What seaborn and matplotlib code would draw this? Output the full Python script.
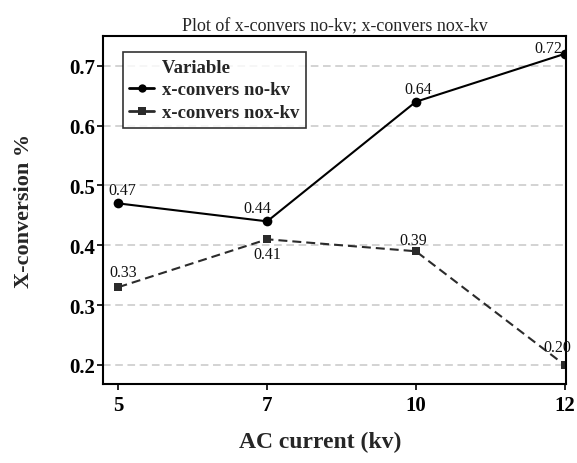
import matplotlib
matplotlib.use("Agg")
import matplotlib.pyplot as plt
import seaborn as sns
import pandas as pd

categories = ["5", "7", "10", "12"]
no_kv = [0.47, 0.44, 0.64, 0.72]
nox_kv = [0.33, 0.41, 0.39, 0.20]
series_names = ["x-convers no-kv", "x-convers nox-kv"]
y_ticks = [0.2, 0.3, 0.4, 0.5, 0.6, 0.7]

sns.set_theme(style="white")
plt.rcParams['font.family'] = ['Liberation Serif', 'DejaVu Serif']

df = pd.DataFrame({
    "AC": categories * 2,
    "value": no_kv + nox_kv,
    "Variable": [series_names[0]] * 4 + [series_names[1]] * 4,
})

fig = plt.figure(figsize=(5.77, 4.64), dpi=100)
ax = fig.add_axes([103/577, 1-385/464, 463/577, 348/464])

sns.lineplot(data=df, x="AC", y="value", hue="Variable", style="Variable",
             markers={series_names[0]: "o", series_names[1]: "s"},
             dashes={series_names[0]: "", series_names[1]: (4.3, 2.4)},
             palette={series_names[0]: "black", series_names[1]: "#2b2b2b"},
             markersize=6, linewidth=1.5, markeredgewidth=0, ax=ax)
ax.lines[0].set_markersize(7)
ax.lines[1].set_markersize(6)

ax.set_axisbelow(True)
ax.grid(axis="y", color="#c8c8c8", lw=1.1, ls=(0, (5, 3)))

def note(txt, i, v, dx, dy):
    ax.annotate(txt, (i, v), xytext=(dx, dy), textcoords="offset points",
                ha="center", va="baseline", fontsize=11.5, color="#111111")

offs1 = [(3, 6.5), (-7, 7), (2, 6.5), (-12, 1.5)]
for i, v in enumerate(no_kv):
    note(f"{v:.2f}", i, v, *offs1[i])
offs2 = [(3.5, 8), (0, -13.4), (-2, 5), (-5, 10)]
for i, v in enumerate(nox_kv):
    note(f"{v:.2f}", i, v, *offs2[i])

ax.set_xlim(-0.104, 3.01)
ax.set_ylim(0.168, 0.75)
ax.set_yticks(y_ticks)
ax.set_yticklabels([f"{t:.1f}" for t in y_ticks])
ax.tick_params(axis="both", which="major", labelsize=15, direction="out",
               length=4, width=1.2, bottom=True, left=True, colors="black")
ax.tick_params(axis="y", pad=1.5)
ax.tick_params(axis="x", pad=4)
for lab in ax.get_xticklabels() + ax.get_yticklabels():
    lab.set_fontweight("bold")
for s in ax.spines.values():
    s.set_color("black")
    s.set_linewidth(1.5)

ax.set_xlabel("AC current (kv)", fontsize=17, fontweight="bold")
ax.xaxis.label.set(va="center")
ax.xaxis.set_label_coords((320-103)/463, (385-442)/348)
ax.set_ylabel("X-conversion %", fontsize=16, fontweight="bold")
ax.yaxis.label.set(va="center", rotation_mode="default")
ax.yaxis.set_label_coords((24-103)/463, 0.5)
ax.set_title("Plot of x-convers no-kv; x-convers nox-kv", fontsize=13, pad=4)

leg = ax.legend(title="       Variable", loc="upper left", bbox_to_anchor=(0.043, 0.954),
                borderaxespad=0, frameon=True, fancybox=False, edgecolor="black",
                prop={"weight": "bold", "size": 13.5}, handlelength=1.3,
                handletextpad=0.45, borderpad=0.35, labelspacing=0.3)
leg.get_title().set_fontweight("bold")
leg.get_title().set_fontsize(13.5)
leg._legend_box.align = "left"
leg.get_frame().set_linewidth(1.2)
for h in leg.legend_handles:
    h.set_linestyle("-")
    h.set_linewidth(2)

fig.savefig("out.png", dpi=100)
